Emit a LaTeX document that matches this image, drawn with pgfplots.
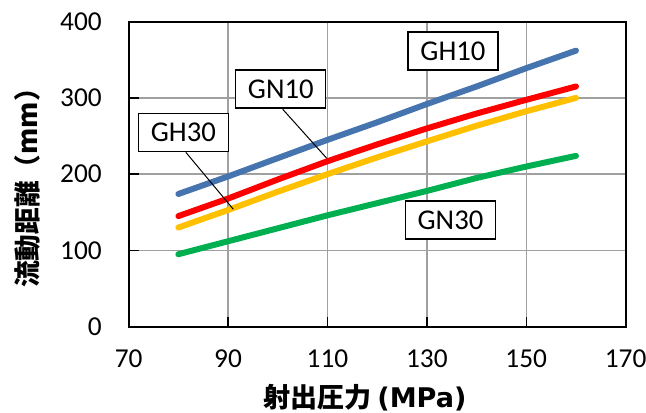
\documentclass[border=0pt]{standalone}
\usepackage{fontspec}
\usepackage{pgfplots}
\pgfplotsset{compat=1.18}
\setmainfont{Carlito}
\newfontfamily\cjk{Noto Sans CJK JP}
\newfontfamily\dvs{DejaVu Sans}
\definecolor{lblue}{HTML}{4674AE}
\definecolor{lred}{HTML}{FF0000}
\definecolor{lyellow}{HTML}{FFC000}
\definecolor{lgreen}{HTML}{00B050}
\definecolor{gridgray}{HTML}{A0A0A0}
\begin{document}
\begin{tikzpicture}
\begin{axis}[
  at={(0,0)}, anchor=south west,
  scale only axis, width=372.75pt, height=228.75pt,
  xmin=70, xmax=170, ymin=0, ymax=400,
  xtick={70,90,110,130,150,170}, ytick={0,100,200,300,400},
  grid=major, major grid style={draw=gridgray, line width=1pt},
  axis line style={line width=1.5pt, black},
  tick align=inside, xtick pos=bottom, ytick pos=left,
  major tick length=7.5pt, tick style={black, line width=1pt},
  /pgf/number format/assume math mode=true,
  tick label style={font=\fontsize{20.5}{20.5}\selectfont},
  yticklabel style={anchor=east, inner sep=0pt, xshift=-20pt},
  xticklabel style={anchor=center, inner sep=0pt, yshift=-24.2pt},
  xlabel={{\cjk\bfseries 射出圧力} {\dvs\bfseries (MPa)}},
  ylabel={\cjk\bfseries 流動距離（mm）},
  xlabel style={at={(axis description cs:0.475,0)}, anchor=center, inner sep=0pt, yshift=-53.5pt, font=\fontsize{20.3}{20.3}\selectfont},
  ylabel style={at={(axis description cs:0,0.476)}, rotate=0, anchor=center, inner sep=0pt, yshift=75.9pt, font=\fontsize{20}{20}\selectfont},
]
\addplot[lblue, line width=4.5pt, line cap=round, line join=round] coordinates {(80,174)(90,197)(100,221)(110,245)(120,268)(130,292)(140,315)(150,339)(160,362)};
\addplot[lred, line width=4.5pt, line cap=round, line join=round] coordinates {(80,145)(90,168)(100,193)(110,217)(120,239)(130,260)(140,279.5)(150,297.5)(160,315)};
\addplot[lyellow, line width=4.5pt, line cap=round, line join=round] coordinates {(80,130)(90,153)(100,177)(110,200)(120,222)(130,243)(140,263.5)(150,282.5)(160,300)};
\addplot[lgreen, line width=4.5pt, line cap=round, line join=round] coordinates {(80,95)(90,112)(100,129)(110,146)(120,162)(130,178)(140,195)(150,210)(160,224)};
\draw[black, line width=0.75pt] (axis cs:101.0,285.1) -- (axis cs:109.84,220.9);
\draw[black, line width=0.75pt] (axis cs:81.5,228.7) -- (axis cs:91.05,154);
\tikzset{lbox/.style={draw=black, fill=white, line width=1.1pt, minimum width=67.5pt, minimum height=28.5pt, inner sep=0pt, font=\fontsize{21.5}{21.5}\selectfont}}
\node[lbox] at (axis cs:135.25,361.6) {GH10};
\node[lbox] at (axis cs:100.6,311.7) {GN10};
\node[lbox] at (axis cs:81.0,254.7) {GH30};
\node[lbox] at (axis cs:134.75,139.9) {GN30};
\end{axis}
\pgfresetboundingbox
\useasboundingbox (-96.5pt,-64.7pt) rectangle (388pt,245pt);
\end{tikzpicture}
\end{document}
